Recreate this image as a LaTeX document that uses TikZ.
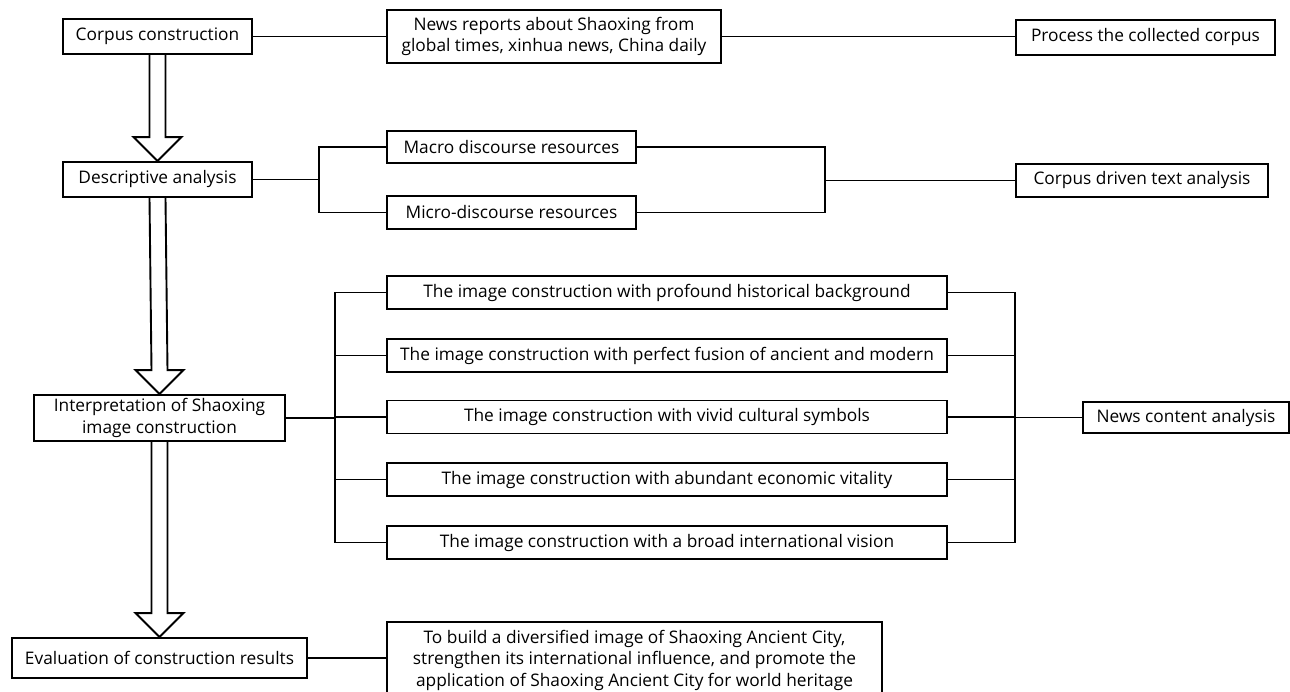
\documentclass[tikz,border=0pt]{standalone}
\usepackage{fontspec}
\setmainfont{Open Sans}
\usepackage{tikz}
\usetikzlibrary{calc}

\tikzset{
    box/.style={rectangle, draw, line width=1.9pt, inner sep=0pt, align=center,
        font=\fontsize{17.3}{21.5}\selectfont},
    link/.style={line width=1.9pt}
}
% hollow block arrow from one box down to the next
\newcommand{\hollowarrow}[2]{%
    \draw[link, line join=miter]
        ($(#1.south)+(-8,0)$) -- ($(#2.north)+(-8,-24)$) -- ++(-16,0)
        -- (#2.north) -- ($(#2.north)+(24,-24)$) -- ++(-16,0)
        -- ($(#1.south)+(8,0)$);}

\begin{document}
\begin{tikzpicture}[x=1pt, y=-1pt]

    \clip (0,0) rectangle (1290,691);

    % left column
    \node[box, minimum width=189, minimum height=35] (corpus) at (157.5,36.5) {Corpus construction};
    \node[box, minimum width=189, minimum height=35] (desc) at (157.5,179.5) {Descriptive analysis};
    \node[box, minimum width=251, minimum height=46] (interp) at (159.5,418) {Interpretation of Shaoxing\\image construction};
    \node[box, minimum width=295, minimum height=40] (eval) at (159.5,658) {Evaluation of construction results};

    % middle column
    \node[box, minimum width=334, minimum height=53] (news) at (554,36.5) {News reports about Shaoxing from\\global times, xinhua news, China daily};
    \node[box, minimum width=249, minimum height=32] (macro) at (511.5,147) {Macro discourse resources};
    \node[box, minimum width=249, minimum height=33] (micro) at (511.5,212.5) {Micro-discourse resources};
    \node[box, minimum width=560, minimum height=33] (img1) at (667,292.5) {The image construction with profound historical background};
    \node[box, minimum width=560, minimum height=33] (img2) at (667,355.5) {The image construction with perfect fusion of ancient and modern};
    \node[box, minimum width=560, minimum height=33] (img3) at (667,417) {The image construction with vivid cultural symbols};
    \node[box, minimum width=560, minimum height=33] (img4) at (667,479.5) {The image construction with abundant economic vitality};
    \node[box, minimum width=560, minimum height=33] (img5) at (667,542.5) {The image construction with a broad international vision};
    \node[box, minimum width=495, minimum height=76] (goal) at (634.5,660) {To build a diversified image of Shaoxing Ancient City,\\strengthen its international influence, and promote the\\application of Shaoxing Ancient City for world heritage};

    % right column
    \node[box, minimum width=259, minimum height=35] (process) at (1145.5,37.5) {Process the collected corpus};
    \node[box, minimum width=252, minimum height=33] (driven) at (1142,180.5) {Corpus driven text analysis};
    \node[box, minimum width=206, minimum height=31] (content) at (1186,417.5) {News content analysis};

    % bracket joints
    \coordinate (jdl) at (319,180);
    \coordinate (jdr) at (825,180.5);
    \coordinate (jil) at (335,417.5);
    \coordinate (jir) at (1015,417.5);

    % block arrows
    \hollowarrow{corpus}{desc}
    \hollowarrow{desc}{interp}
    \hollowarrow{interp}{eval}

    % straight links
    \draw[link] (corpus.east) -- (news.west);
    \draw[link] (news.east) -- (news.east -| process.west);
    \draw[link] (eval.east) -- (eval.east -| goal.west);

    % descriptive analysis brackets
    \draw[link] (desc.east) -- (desc.east -| jdl);
    \draw[link] (macro.west) -| (jdl) |- (micro.west);
    \draw[link] (macro.east) -| (jdr) |- (micro.east);
    \draw[link] (jdr) -- (jdr -| driven.west);

    % interpretation brackets
    \draw[link] (interp.east) -- (interp.east -| jil);
    \draw[link] (img1.west) -| (jil) |- (img5.west);
    \draw[link] (img1.east) -| (jir) |- (img5.east);
    \foreach \i in {2,3,4} {
        \draw[link] (img\i.west) -- (img\i.west -| jil);
        \draw[link] (img\i.east) -- (img\i.east -| jir);
    }
    \draw[link] (jir) -- (jir -| content.west);

\end{tikzpicture}
\end{document}
